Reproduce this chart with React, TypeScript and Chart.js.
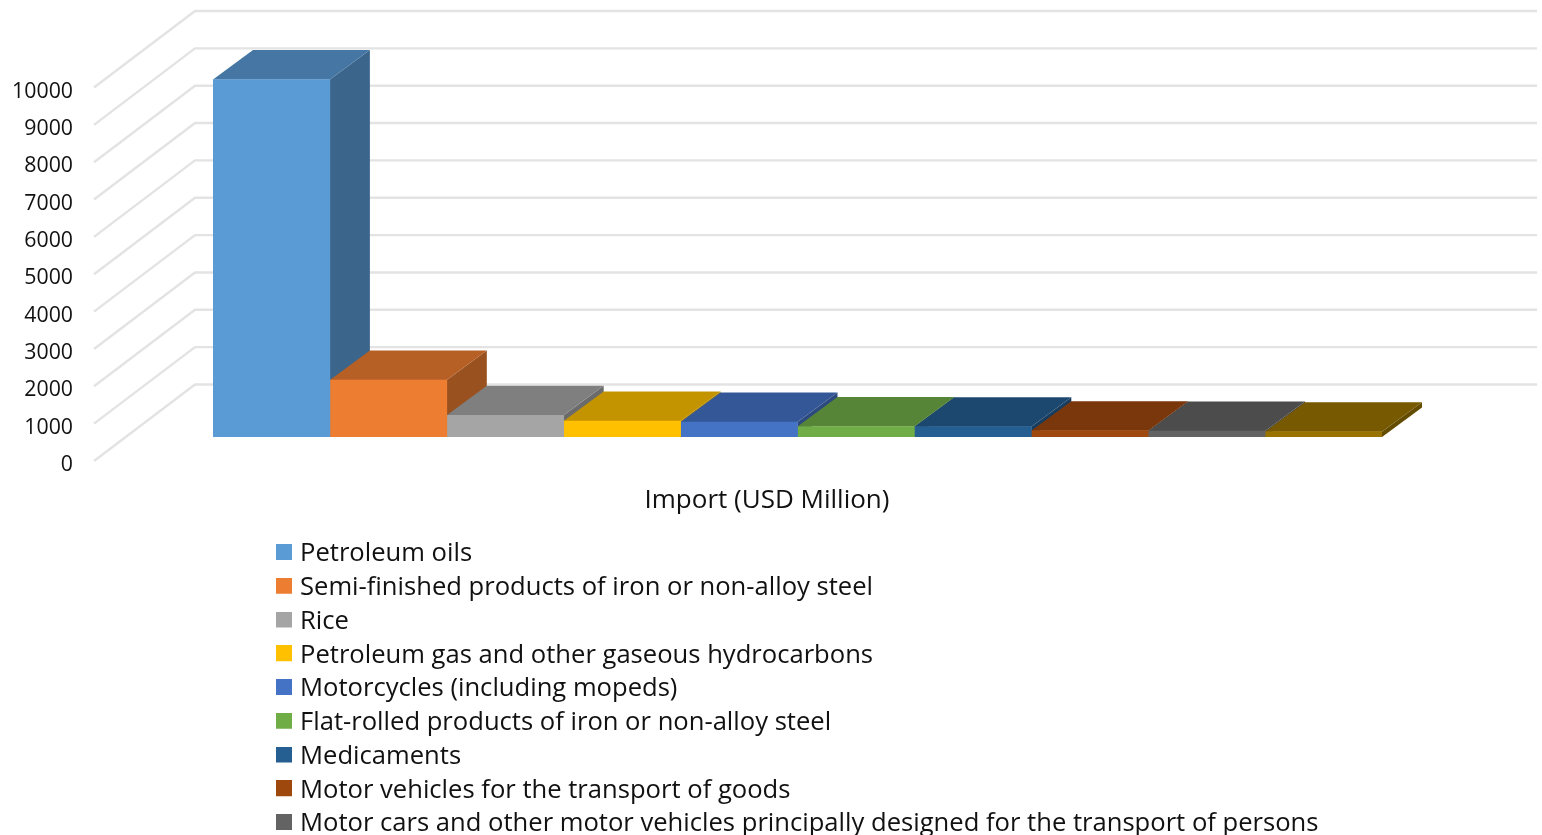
import React, { useEffect, useRef } from "react";
import { Chart, registerables } from "chart.js";

Chart.register(...registerables);

const categories = ["Import (USD Million)"];
const seriesNames = [
  "Petroleum oils",
  "Semi-finished products of iron or non-alloy steel",
  "Rice",
  "Petroleum gas and other gaseous hydrocarbons",
  "Motorcycles (including mopeds)",
  "Flat-rolled products of iron or non-alloy steel",
  "Medicaments",
  "Motor vehicles for the transport of goods",
  "Motor cars and other motor vehicles principally designed for the transport of persons",
  "",
];
const seriesValues = [9572, 1526, 581, 428, 400, 281, 276, 169, 160, 142];
const seriesColors = [
  "#5B9BD5", "#ED7D31", "#A5A5A5", "#FFC000", "#4472C4",
  "#70AD47", "#255E91", "#9E480E", "#636363", "#997300",
];
const FONT = "'Open Sans', sans-serif";
const TEXT = "#111111";
const LEGEND_SIZE = 25.6;
const AXIS_TITLE_SIZE = 26;
const TICK_SIZE = 21.3;

const shade = (hex: string, k: number) => {
  const n = parseInt(hex.slice(1), 16);
  const c = [(n >> 16) & 255, (n >> 8) & 255, n & 255].map((v) => Math.round(v * k));
  return `rgb(${c[0]},${c[1]},${c[2]})`;
};

const poly = (ctx: CanvasRenderingContext2D, pts: number[][], fill: string) => {
  ctx.beginPath();
  pts.forEach((p, i) => (i ? ctx.lineTo(p[0], p[1]) : ctx.moveTo(p[0], p[1])));
  ctx.closePath();
  ctx.fillStyle = fill;
  ctx.fill();
};

// Legend swatch: 16px square, drawn 2px above the label's middle line.
const swatch = (color: string) => {
  const c = document.createElement("canvas");
  c.width = 16;
  c.height = 20;
  const g = c.getContext("2d")!;
  g.fillStyle = color;
  g.fillRect(0, 0, 16, 16);
  return c;
};

const BAR_DX = 40;
const BAR_DY = 29.5;

const threeD = {
  id: "threeD",
  afterLayout(chart: any) {
    const lg = chart.legend;
    lg.left = 272.65;
    lg.top = 533.05;
    lg.width = 1200;
    lg.height = 400;
    lg.right = lg.left + lg.width;
    lg.bottom = lg.top + lg.height;
  },
  beforeDatasetsDraw(chart: any) {
    const { ctx, chartArea, scales } = chart;
    const y = scales.y;
    const left = chartArea.left;
    const right = chartArea.right;
    ctx.save();
    ctx.strokeStyle = "#e3e3e3";
    ctx.lineWidth = 2.4;
    ctx.lineJoin = "round";
    y.ticks.forEach((t: any) => {
      const p = y.getPixelForValue(t.value);
      ctx.beginPath();
      ctx.moveTo(left - 119, p + 24);
      ctx.lineTo(left - 18, p - 52.5);
      ctx.lineTo(right + 155, p - 52.5);
      ctx.stroke();
    });
    chart.data.datasets.forEach((ds: any, i: number) => {
      const bar = chart.getDatasetMeta(i).data[0];
      const x0 = bar.x - bar.width / 2;
      const x1 = bar.x + bar.width / 2;
      const top = bar.y;
      const base = bar.base;
      const c = ds.backgroundColor;
      poly(ctx, [[x1, top], [x1 + BAR_DX, top - BAR_DY], [x1 + BAR_DX, base - BAR_DY], [x1, base]], shade(c, 0.65));
      poly(ctx, [[x0, top], [x1, top], [x1 + BAR_DX, top - BAR_DY], [x0 + BAR_DX, top - BAR_DY]], shade(c, 0.77));
    });
    ctx.restore();
  },
};

export default function App() {
  const ref = useRef<HTMLCanvasElement>(null);
  useEffect(() => {
    document.body.style.margin = "0";
    const chart = new Chart(ref.current!, {
      type: "bar",
      data: {
        labels: categories,
        datasets: seriesNames.map((name, i) => ({
          label: name,
          data: [seriesValues[i]],
          backgroundColor: seriesColors[i],
          categoryPercentage: 1,
          barPercentage: 1,
        })),
      },
      plugins: [threeD],
      options: {
        responsive: false,
        animation: false,
        layout: { padding: { top: 63.5, left: 0, right: 160, bottom: 0 } },
        plugins: {
          title: { display: false },
          tooltip: { enabled: false },
          legend: {
            position: "chartArea",
            align: "start",
            labels: {
              usePointStyle: true,
              pointStyleWidth: 6.4,
              padding: 8.15,
              color: TEXT,
              font: { family: FONT, size: LEGEND_SIZE, lineHeight: 1 },
              filter: (item: any) => item.text !== "",
              generateLabels: (c: any) =>
                Chart.defaults.plugins.legend.labels.generateLabels(c).map((l: any) => ({
                  ...l,
                  pointStyle: swatch(l.fillStyle),
                })),
            },
          },
        },
        scales: {
          x: {
            grid: { display: false },
            border: { display: false },
            afterFit: (s: any) => { s.height = 398; },
            ticks: {
              color: TEXT,
              font: { family: FONT, size: AXIS_TITLE_SIZE },
              padding: 40,
              labelOffset: -30.5,
              maxRotation: 0,
            },
          },
          y: {
            min: 0,
            max: 10000,
            grid: { display: false, drawTicks: false },
            border: { display: false },
            afterFit: (s: any) => { s.width = 213; s.paddingTop = 0; s.paddingBottom = 0; },
            ticks: {
              stepSize: 1000,
              color: TEXT,
              font: { family: FONT, size: TICK_SIZE },
              padding: 140,
              labelOffset: 28,
              callback: (v: any) => String(v),
            },
          },
        },
      } as any,
    });
    return () => chart.destroy();
  }, []);
  return <canvas ref={ref} width={1542} height={835} style={{ display: "block", filter: "blur(0.5px)" }} />;
}
